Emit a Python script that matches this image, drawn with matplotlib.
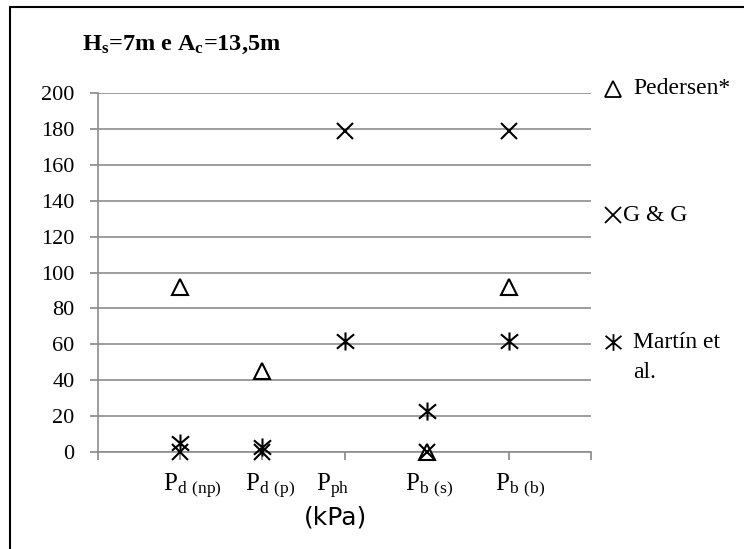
import matplotlib
matplotlib.use("Agg")
import matplotlib.pyplot as plt
from matplotlib.lines import Line2D
from matplotlib.patches import Rectangle
from matplotlib.path import Path
from matplotlib.transforms import ScaledTranslation

plt.rcParams['font.family'] = ['Liberation Serif', 'DejaVu Serif']
plt.rcParams['mathtext.fontset'] = 'custom'
plt.rcParams['mathtext.rm'] = 'Liberation Serif'
plt.rcParams['mathtext.bf'] = 'Liberation Serif:bold'

# data
categories = [r'$\mathregular{P_{d\ (np)}}$', r'$\mathregular{P_{d\ (p)}}$',
              r'$\mathregular{P_{ph}}$', r'$\mathregular{P_{b\ (s)}}$',
              r'$\mathregular{P_{b\ (b)}}$']
pedersen = [92, 45, None, 0, 92]
gg = [0, 0, 179, 0, 179]
martin = [5, 3, 62, 23, 62]
yticks = [0, 20, 40, 60, 80, 100, 120, 140, 160, 180, 200]

# excel style asterisk marker
star = Path([(0, -1), (0, 1), (-0.95, -0.8), (0.95, 0.8), (-0.95, 0.8), (0.95, -0.8)],
            [Path.MOVETO, Path.LINETO, Path.MOVETO, Path.LINETO, Path.MOVETO, Path.LINETO])

fig = plt.figure(figsize=(7.44, 5.49), dpi=100)
ax = fig.add_axes([98/744, 1-452/549, (591-98)/744, (452-93)/549])

xs = list(range(1, len(categories)+1))
px = [x for x, v in zip(xs, pedersen) if v is not None]
pv = [v for v in pedersen if v is not None]
ax.plot(px, pv, ls='none', marker='^', ms=12, mfc='white', mec='black', mew=1.5, zorder=3, clip_on=False)
ax.plot(xs, gg, ls='none', marker='x', ms=11, mec='black', mew=1.5, zorder=4, clip_on=False)
ax.plot(xs, martin, ls='none', marker=star, ms=13, mec='black', mew=1.5, zorder=4, clip_on=False)

ax.set_xlim(0, 6)
ax.set_ylim(0, 200)
ax.set_yticks(yticks)
ax.tick_params(axis='y', labelsize=16, length=6, color='#888888', width=1.2, pad=11)
ax.set_xticks(range(0, 7))
ax.set_xticklabels([''] + categories + [''], fontsize=18)
ax.tick_params(axis='x', length=6, color='#888888', width=1.2, pad=8)
ax.grid(axis='y', color='#8c8c8c', lw=1.2)
for s in ['top', 'right']:
    ax.spines[s].set_visible(False)
for s in ['left', 'bottom']:
    ax.spines[s].set_color('#8c8c8c')
    ax.spines[s].set_linewidth(1.2)
ax.set_axisbelow(True)

# excel places the category labels a bit unevenly
shifts = [12, 8, -12, 2, 11]
for lbl, dx in zip(ax.get_xticklabels()[1:6], shifts):
    lbl.set_transform(lbl.get_transform() + ScaledTranslation(dx/100, 0, fig.dpi_scale_trans))

ax.set_xlabel('(kPa)', family='DejaVu Sans', fontsize=18)
ax.xaxis.set_label_coords(238/493, -0.150)

fig.text(182/744, 1-45/549, r'$\mathbf{H_s}$=7m e $\mathbf{A_c}$=13,5m', fontsize=17.5,
         fontweight='bold', ha='center', va='center')

# legend drawn by hand on the right
leg = [('Pedersen*', '^', 89, 633), ('G & G', 'x', 215, 623), ('Martín et', star, 342, 633)]
for label, m, y, tx in leg:
    fig.add_artist(Line2D([613/744], [1-y/549], marker=m, ms=11 if m == 'x' else 12,
                          mfc='white', mec='black', mew=1.3, ls='none',
                          transform=fig.transFigure))
    fig.text(tx/744, 1-y/549, label, fontsize=17, va='center', ha='left')
fig.text(633/744, 1-372/549, 'al.', fontsize=17, va='center', ha='left')

fig.add_artist(Rectangle((10/744, -0.1), 1.2, 1-7/549+0.1, fill=False, ec='black', lw=1.5,
                         transform=fig.transFigure))

fig.savefig('out.png', dpi=100)
